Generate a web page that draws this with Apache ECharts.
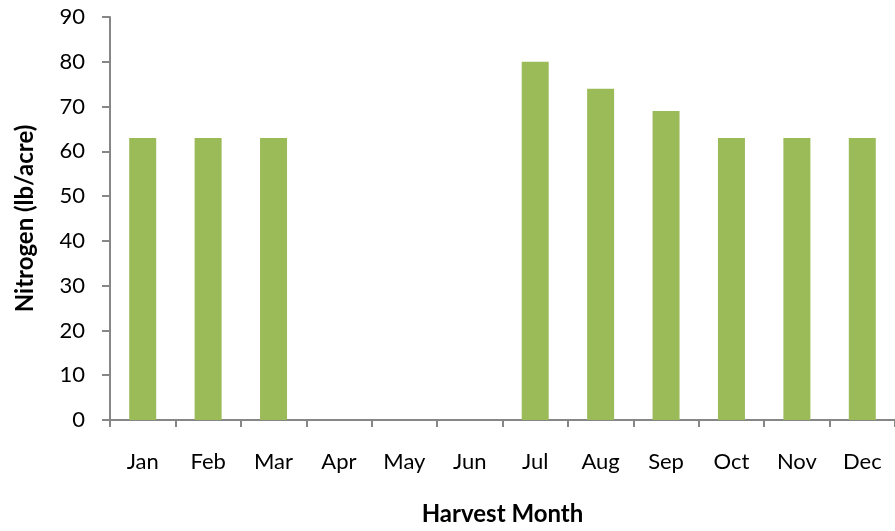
<!DOCTYPE html>
<html>
<head>
<meta charset="utf-8">
<script src="https://cdn.jsdelivr.net/npm/echarts@6/dist/echarts.min.js"></script>
<style>
  html, body { margin: 0; padding: 0; background: #fff; }
  #chart { width: 895px; height: 531px; }
</style>
</head>
<body>
<div id="chart"></div>
<script>
// data
const months = ['Jan', 'Feb', 'Mar', 'Apr', 'May', 'Jun', 'Jul', 'Aug', 'Sep', 'Oct', 'Nov', 'Dec']
const nitrogen = [63, 63, 63, 0, 0, 0, 80, 74, 69, 63, 63, 63]

const chart = echarts.init(document.getElementById('chart'))
const font = 'Lato, "Open Sans", sans-serif'
const axisGray = '#868686'

chart.setOption({
  animation: false,
  grid: {
    left: 110,
    top: 17,
    width: 792,
    height: 404,
  },
  xAxis: {
    type: 'category',
    data: months,
    axisLine: { lineStyle: { color: axisGray, width: 2 } },
    axisTick: { show: true, length: 7, lineStyle: { color: axisGray, width: 2 } },
    axisLabel: { color: '#000', fontSize: 22, fontFamily: font, margin: 31 },
    name: 'Harvest Month',
    nameLocation: 'middle',
    nameGap: 82,
    nameTextStyle: { color: '#000', fontSize: 24, fontWeight: 'bold', fontFamily: font },
  },
  yAxis: {
    type: 'value',
    min: 0,
    max: 90,
    interval: 10,
    splitLine: { show: false },
    axisLine: { show: true, lineStyle: { color: axisGray, width: 2 } },
    axisTick: { show: true, length: 8, lineStyle: { color: axisGray, width: 2 } },
    axisLabel: { color: '#000', fontSize: 22, fontFamily: font, margin: 25 },
    name: 'Nitrogen (lb/acre)',
    nameLocation: 'middle',
    nameGap: 73,
    nameTextStyle: { color: '#000', fontSize: 24, fontWeight: 'bold', fontFamily: font },
  },
  series: [
    {
      type: 'bar',
      data: nitrogen,
      barWidth: 27,
      itemStyle: { color: '#9BBB59' },
    },
  ],
})
</script>
</body>
</html>
